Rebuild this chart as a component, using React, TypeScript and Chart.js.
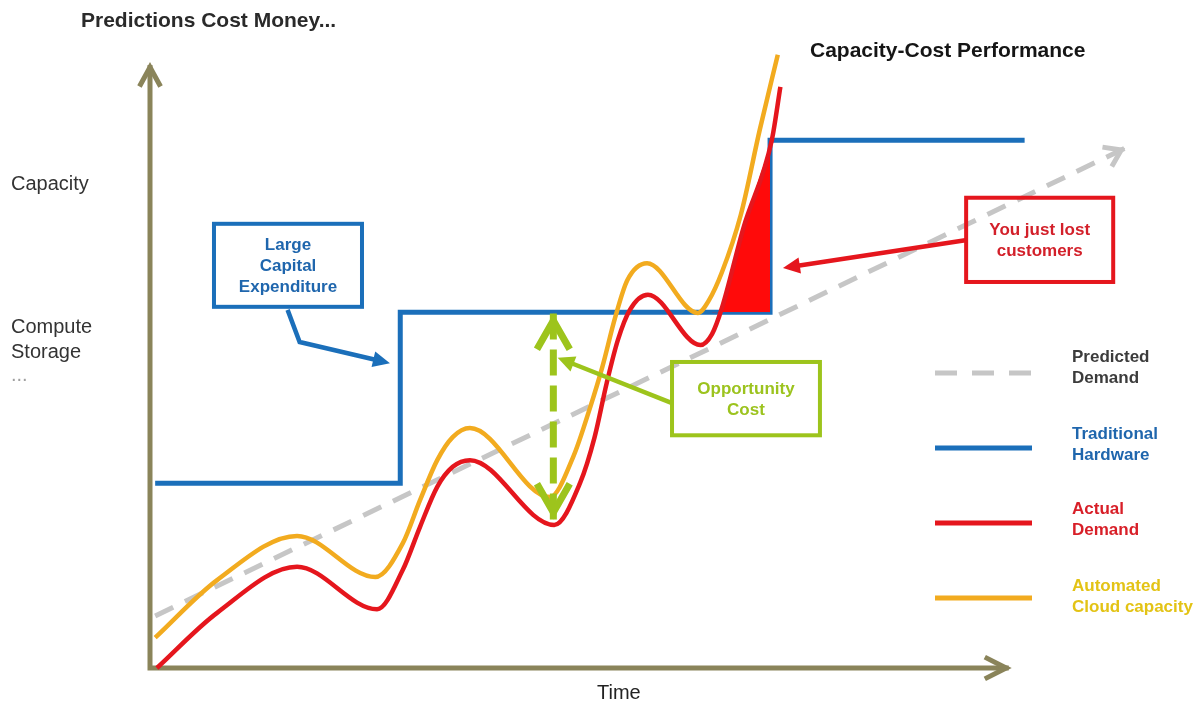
import { useEffect, useRef } from "react";
import { Chart, registerables } from "chart.js";

Chart.register(...registerables);

// ---------- data (time units 0..120, capacity units 0..100) ----------
const HARDWARE_TIME = [0.6, 29.1, 29.1, 72.1, 72.1, 101.7];
const HARDWARE_CAP = [30.5, 30.5, 58.7, 58.7, 87.1, 87.1];

const PREDICTED_TIME = [0.6, 113.4];
const PREDICTED_CAP = [8.6, 85.8];

const ACTUAL_TIME = [0.8, 7.8, 17.1, 26.4, 29.4, 31.4, 33.4, 35.2, 37.2, 47.0, 50.0, 51.7, 53.1, 54.4, 55.8, 57.9, 64.0, 65.35, 66.5, 69.0, 72.3, 73.3];
const ACTUAL_CAP = [0, 9.1, 16.7, 9.7, 16.2, 23.3, 29.9, 33.2, 34.3, 23.6, 30.5, 38.1, 47.0, 54.1, 59.1, 61.6, 53.3, 55.1, 59.4, 72.6, 87.1, 95.9];

const CLOUD_TIME = [0.6, 7.8, 17.1, 26.2, 29.4, 31.4, 33.4, 35.2, 37.2, 46.5, 49.2, 51.2, 52.6, 54.1, 55.5, 57.8, 63.7, 65.0, 66.5, 68.7, 70.9, 73.0];
const CLOUD_CAP = [5.0, 14.5, 21.8, 15.0, 20.6, 27.7, 34.3, 38.1, 39.6, 28.2, 34.8, 43.1, 49.7, 57.9, 64.0, 66.8, 58.6, 60.7, 65.3, 74.8, 88.8, 101.2];

// actual-demand points from just after the last trough up to where demand meets the new hardware
const LOSS_FIRST = 17;
const LOSS_LAST = 20;

const OPPORTUNITY_TIME = [46.9, 46.9];
const OPPORTUNITY_CAP = [58.5, 24.5];

const AXIS_TIME_END = 100.2;
const AXIS_CAP_END = 100;

const LEGEND_LABELS = [
  ["Predicted", "Demand"],
  ["Traditional", "Hardware"],
  ["Actual", "Demand"],
  ["Automated", "Cloud capacity"],
];

// ---------- styles ----------
const FONT = '"Liberation Sans", Arial, Helvetica, sans-serif';
const AXIS_COLOR = "#8a845a";
const BLUE = "#1b6fba";
const RED = "#e5161d";
const ORANGE = "#f2ab1f";
const GREEN = "#9dc41c";
const GRAY = "#c6c6c6";

const CALLOUTS = [
  {
    lines: ["Large", "Capital", "Expenditure"],
    color: BLUE,
    textColor: "#1f66ad",
    box: [7.44, 73.3, 24.65, 59.6],
    arrow: [[16.0, 59.1], [17.4, 53.8], [27.9, 50.3]],
  },
  {
    lines: ["Opportunity", "Cost"],
    color: GREEN,
    textColor: "#9cc31e",
    box: [60.7, 50.5, 77.9, 38.4],
    arrow: [[60.7, 43.7], [47.4, 51.2]],
  },
  {
    lines: ["You just lost", "customers"],
    color: RED,
    textColor: "#d3202a",
    box: [94.9, 77.6, 112.0, 63.7],
    arrow: [[94.8, 70.6], [73.6, 66.0]],
  },
];

const LEGEND_STYLE = [
  { stroke: GRAY, dashed: true, text: "#3c3c3c", lineY: 373, textY: 362 },
  { stroke: BLUE, dashed: false, text: "#1f66ad", lineY: 448, textY: 439 },
  { stroke: RED, dashed: false, text: "#d81f28", lineY: 523, textY: 514 },
  { stroke: ORANGE, dashed: false, text: "#e3c315", lineY: 598, textY: 591 },
];

const TEXTS = [
  { text: "Predictions Cost Money...", x: 81, y: 27, font: "bold 21px", color: "#2a2a2a" },
  { text: "Capacity-Cost Performance", x: 810, y: 57, font: "bold 21px", color: "#151515" },
  { text: "Capacity", x: 11, y: 190, font: "20px", color: "#333" },
  { text: "Compute", x: 11, y: 333, font: "20px", color: "#333" },
  { text: "Storage", x: 11, y: 358, font: "20px", color: "#333" },
  { text: "...", x: 11, y: 381, font: "20px", color: "#a0a0a0" },
  { text: "Time", x: 597, y: 699, font: "20px", color: "#222" },
];

const pts = (t: number[], v: number[]) => t.map((x, i) => ({ x, y: v[i] }));

function chevron(ctx: CanvasRenderingContext2D, tx: number, ty: number, ang: number, len: number, half: number, color: string, width: number) {
  ctx.save();
  ctx.strokeStyle = color;
  ctx.lineWidth = width;
  ctx.lineCap = "butt";
  ctx.lineJoin = "miter";
  const back = width / (2 * Math.sin(half));
  const x = tx - back * Math.cos(ang);
  const y = ty - back * Math.sin(ang);
  ctx.beginPath();
  ctx.moveTo(x - len * Math.cos(ang - half), y - len * Math.sin(ang - half));
  ctx.lineTo(x, y);
  ctx.lineTo(x - len * Math.cos(ang + half), y - len * Math.sin(ang + half));
  ctx.stroke();
  ctx.restore();
}

function filledHead(ctx: CanvasRenderingContext2D, tx: number, ty: number, ang: number, len: number, hw: number, color: string) {
  ctx.save();
  ctx.fillStyle = color;
  const bx = tx - len * Math.cos(ang);
  const by = ty - len * Math.sin(ang);
  ctx.beginPath();
  ctx.moveTo(tx, ty);
  ctx.lineTo(bx + hw * Math.sin(ang), by - hw * Math.cos(ang));
  ctx.lineTo(bx - hw * Math.sin(ang), by + hw * Math.cos(ang));
  ctx.closePath();
  ctx.fill();
  ctx.restore();
}

const overlay = {
  id: "overlay",
  beforeDatasetsDraw(chart: any) {
    const ctx: CanvasRenderingContext2D = chart.ctx;
    const xs = chart.scales.x;
    const ys = chart.scales.y;
    const x0 = xs.getPixelForValue(0);
    const y0 = ys.getPixelForValue(0);
    const yTop = ys.getPixelForValue(AXIS_CAP_END);
    const xEnd = xs.getPixelForValue(AXIS_TIME_END);
    ctx.save();
    ctx.strokeStyle = AXIS_COLOR;
    ctx.lineWidth = 5;
    ctx.lineCap = "butt";
    ctx.beginPath();
    ctx.moveTo(x0, y0 + 2.5);
    ctx.lineTo(x0, yTop + 3);
    ctx.moveTo(x0 - 2.5, y0);
    ctx.lineTo(xEnd - 3, y0);
    ctx.stroke();
    ctx.restore();
    chevron(ctx, x0, yTop, -Math.PI / 2, 22, 0.5, AXIS_COLOR, 5);
    chevron(ctx, xEnd, y0, 0, 24, 0.47, AXIS_COLOR, 5);
  },
  afterDatasetsDraw(chart: any) {
    const ctx: CanvasRenderingContext2D = chart.ctx;
    const xs = chart.scales.x;
    const ys = chart.scales.y;
    const px = (t: number) => xs.getPixelForValue(t);
    const py = (v: number) => ys.getPixelForValue(v);

    // predicted demand arrowhead
    {
      const n = PREDICTED_TIME.length;
      const ax = px(PREDICTED_TIME[n - 2]);
      const ay = py(PREDICTED_CAP[n - 2]);
      const bx = px(PREDICTED_TIME[n - 1]);
      const by = py(PREDICTED_CAP[n - 1]);
      chevron(ctx, bx, by, Math.atan2(by - ay, bx - ax), 19, 0.6, GRAY, 5);
    }
    // opportunity cost double arrow
    {
      const ox = px(OPPORTUNITY_TIME[0]);
      const topY = py(OPPORTUNITY_CAP[0]);
      const botY = py(OPPORTUNITY_CAP[1]);
      chevron(ctx, ox, topY, -Math.PI / 2, 33, 0.52, GREEN, 7);
      chevron(ctx, ox, botY, Math.PI / 2, 33, 0.52, GREEN, 7);
    }
    // callouts
    for (const c of CALLOUTS) {
      const [t1, v1, t2, v2] = c.box;
      const bx1 = px(t1), by1 = py(v1), bx2 = px(t2), by2 = py(v2);
      ctx.save();
      ctx.strokeStyle = c.color;
      ctx.lineWidth = 4;
      ctx.strokeRect(bx1, by1, bx2 - bx1, by2 - by1);
      const cx = (bx1 + bx2) / 2;
      const cy = (by1 + by2) / 2;
      ctx.fillStyle = c.textColor;
      ctx.font = `bold 17px ${FONT}`;
      ctx.textAlign = "center";
      ctx.textBaseline = "alphabetic";
      const n = c.lines.length;
      c.lines.forEach((l, i) => {
        ctx.fillText(l, cx, cy + (i - (n - 1) / 2) * 21 + 6);
      });
      // arrow
      const p = c.arrow.map(([t, v]) => [px(t), py(v)]);
      const last = p[p.length - 1];
      const prev = p[p.length - 2];
      const ang = Math.atan2(last[1] - prev[1], last[0] - prev[0]);
      const headLen = 17;
      ctx.lineWidth = 4.5;
      ctx.lineJoin = "miter";
      ctx.beginPath();
      ctx.moveTo(p[0][0], p[0][1]);
      for (let i = 1; i < p.length - 1; i++) ctx.lineTo(p[i][0], p[i][1]);
      ctx.lineTo(last[0] - (headLen - 2) * Math.cos(ang), last[1] - (headLen - 2) * Math.sin(ang));
      ctx.stroke();
      ctx.restore();
      filledHead(ctx, last[0], last[1], ang, headLen, 8, c.color);
    }
    // legend
    LEGEND_STYLE.forEach((s, i) => {
      ctx.save();
      ctx.strokeStyle = s.stroke;
      ctx.lineWidth = 5;
      ctx.lineCap = "butt";
      if (s.dashed) ctx.setLineDash([22, 15]);
      ctx.beginPath();
      ctx.moveTo(935, s.lineY);
      ctx.lineTo(1032, s.lineY);
      ctx.stroke();
      ctx.setLineDash([]);
      ctx.fillStyle = s.text;
      ctx.font = `bold 17px ${FONT}`;
      ctx.textAlign = "left";
      ctx.textBaseline = "alphabetic";
      LEGEND_LABELS[i].forEach((l, j) => ctx.fillText(l, 1072, s.textY + j * 21));
      ctx.restore();
    });
    // texts
    for (const t of TEXTS) {
      ctx.save();
      ctx.fillStyle = t.color;
      ctx.font = `${t.font} ${FONT}`;
      ctx.textAlign = "left";
      ctx.textBaseline = "alphabetic";
      ctx.fillText(t.text, t.x, t.y);
      ctx.restore();
    }
  },
};

export default function App() {
  const ref = useRef<HTMLCanvasElement | null>(null);
  useEffect(() => {
    document.body.style.margin = "0";
    const canvas = ref.current;
    if (!canvas) return;
    const actual = pts(ACTUAL_TIME, ACTUAL_CAP);
    const chart = new Chart(canvas, {
      type: "line",
      data: {
        datasets: [
          {
            label: "Traditional Hardware",
            data: pts(HARDWARE_TIME, HARDWARE_CAP),
            borderColor: BLUE,
            borderWidth: 5,
            borderJoinStyle: "miter",
            tension: 0,
            fill: false,
            order: 6,
            clip: false,
          },
          {
            label: "Lost customers",
            data: actual.slice(LOSS_FIRST, LOSS_LAST + 1),
            borderColor: "rgba(0,0,0,0)",
            borderWidth: 0,
            cubicInterpolationMode: "monotone",
            fill: { target: 0, above: "#ff0a0a", below: "rgba(0,0,0,0)" },
            order: 5,
            clip: false,
          },
          {
            label: "Predicted Demand",
            data: pts(PREDICTED_TIME, PREDICTED_CAP),
            borderColor: GRAY,
            borderWidth: 5,
            borderDash: [20, 13],
            fill: false,
            order: 4,
            clip: false,
          },
          {
            label: "Automated Cloud capacity",
            data: pts(CLOUD_TIME, CLOUD_CAP),
            borderColor: ORANGE,
            borderWidth: 4.5,
            cubicInterpolationMode: "monotone",
            fill: false,
            order: 2,
            clip: false,
          },
          {
            label: "Actual Demand",
            data: actual,
            borderColor: RED,
            borderWidth: 4.5,
            cubicInterpolationMode: "monotone",
            fill: false,
            order: 1,
            clip: false,
          },
          {
            label: "Opportunity Cost",
            data: pts(OPPORTUNITY_TIME, OPPORTUNITY_CAP),
            borderColor: GREEN,
            borderWidth: 7,
            borderDash: [26, 10],
            fill: false,
            order: 0,
            clip: false,
          },
        ],
      },
      options: {
        responsive: false,
        animation: false,
        events: [],
        layout: { padding: { left: 150, top: 62, right: 18, bottom: 36 } },
        scales: {
          x: { type: "linear", min: 0, max: 120, display: false },
          y: { type: "linear", min: 0, max: 100, display: false },
        },
        elements: {
          point: { radius: 0, hoverRadius: 0 },
          line: { capBezierPoints: false, borderCapStyle: "butt" },
        },
        plugins: {
          legend: { display: false },
          tooltip: { enabled: false },
          title: { display: false },
        },
      },
      plugins: [overlay],
    } as any);
    return () => chart.destroy();
  }, []);
  return (
    <div style={{ width: 1200, height: 704, background: "#fff" }}>
      <canvas ref={ref} width={1200} height={704} style={{ display: "block" }} />
    </div>
  );
}
